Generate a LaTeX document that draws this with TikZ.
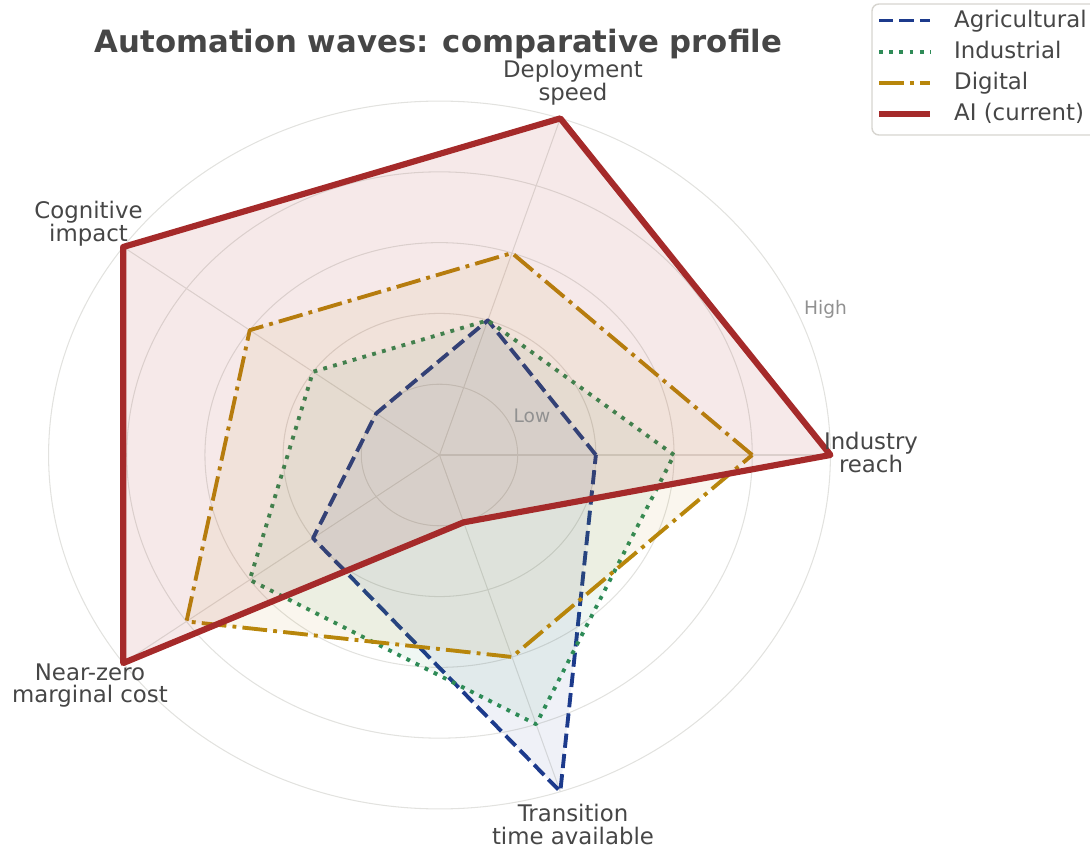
\documentclass[tikz,border=0pt]{standalone}
\usepackage{fontspec}
\setmainfont{DejaVu Sans}
\usetikzlibrary{calc}

\definecolor{agrcol}{RGB}{28,58,140}
\definecolor{indcol}{RGB}{46,139,87}
\definecolor{digcol}{RGB}{184,134,11}
\definecolor{aicol}{RGB}{165,42,42}
\definecolor{txtcol}{RGB}{70,70,70}
\definecolor{gridcol}{RGB}{226,226,223}
\definecolor{framecol}{RGB}{215,213,208}

\begin{document}
\begin{tikzpicture}[x=0.02cm,y=-0.02cm,
  ring/.style={gridcol,line width=0.6pt},
  axlab/.style={txtcol,align=center,font=\fontsize{13}{13}\selectfont},
  ticklab/.style={anchor=base,text=black!43,font=\fontsize{10.6}{12}\selectfont},
  ser/.style={line width=2.2pt,line join=round},
  agr/.style={ser,agrcol,dash pattern=on 8.1pt off 3.5pt},
  ind/.style={ser,indcol,dash pattern=on 2.2pt off 3.6pt},
  dig/.style={ser,digcol,dash pattern=on 14.1pt off 3.5pt on 2.2pt off 3.5pt},
  ai/.style={ser,aicol,line width=3.5pt}]
  \path[use as bounding box,clip] (0,0) rectangle (1090,851);
  \coordinate (c) at (439.5,455);
  \begin{scope}[shift={(c)},x=1.564cm,y=1.416cm]
    \coordinate (o) at (0,0);
    % kruhy a osy
    \foreach \r in {1,...,5} {\draw[ring] (o) circle (\r);}
    \foreach \i/\a in {1/0,2/72,3/144,4/216,5/288} {
      \coordinate (ax\i) at (\a:5);
      \draw[ring] (o) -- (ax\i);}
    % rady: hodnoty na osach 1..5, pruhlednost vyplne
    \foreach \s/\cl/\op/\v in {agr/agrcol/0.07/{2,2,1,2,5},ind/indcol/0.07/{3,2,2,3,4},dig/digcol/0.07/{4,3,3,4,3},ai/aicol/0.1/{5,5,5,5,1}} {
      \foreach \r [count=\k] in \v {\coordinate (\s\k) at ({72*(\k-1)}:\r);}
      \draw[style=\s,fill=\cl,fill opacity=\op] (\s1) -- (\s2) -- (\s3) -- (\s4) -- (\s5) -- cycle;}
  \end{scope}
  % popisky os
  \node[axlab] (lab1) at (871,452.8) {Industry\\reach};
  \node[axlab] (lab2) at (573,82.5) {Deployment\\speed};
  \node[axlab] (lab3) at (88.5,223.5) {Cognitive\\impact};
  \node[axlab] (lab4) at (90,685.5) {Near-zero\\marginal cost};
  \node[axlab] (lab5) at (573,824.8) {Transition\\time available};
  \node[ticklab] (low) at (532,423) {Low};
  \node[ticklab] (high) at (825.5,315) {High};
  % nadpis
  \node[anchor=base,txtcol,font=\fontsize{17.5}{20}\selectfont\bfseries] (title) at (438.5,53) {Automation waves: comparative profile};
  % legenda
  \draw[framecol,line width=0.8pt,fill=white,rounded corners=4pt] (872,4) rectangle (1100,135);
  \foreach \s/\y/\t in {agr/20.5/Agricultural,ind/52/Industrial,dig/83/Digital,ai/114/AI (current)} {
    \coordinate (\s-a) at (879,\y); \coordinate (\s-b) at (930,\y);
    \draw[style=\s] (\s-a) -- (\s-b);
    \node[anchor=base west,txtcol,font=\fontsize{13}{13}\selectfont] (\s-t) at (948,\y+7) {\t};}
\end{tikzpicture}
\end{document}
